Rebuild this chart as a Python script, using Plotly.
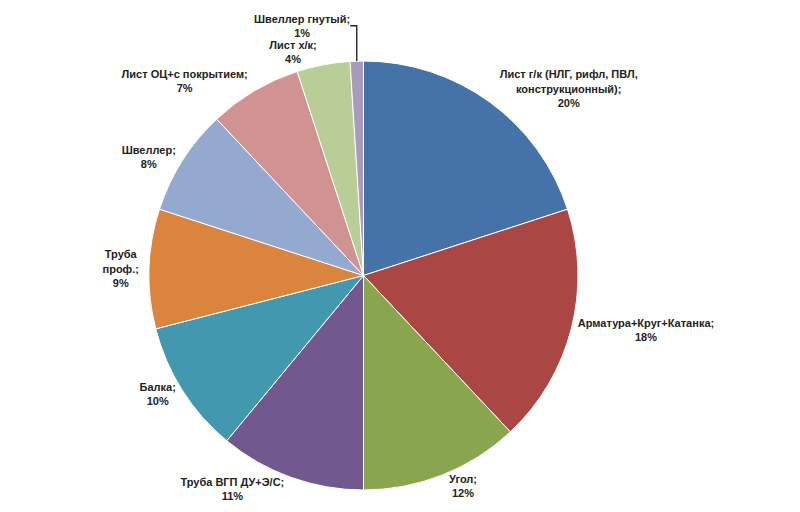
import plotly.graph_objects as go

labels = ["Лист г/к (НЛГ, рифл, ПВЛ,<br>конструкционный);", "Арматура+Круг+Катанка;", "Угол;",
          "Труба ВГП ДУ+Э/С;", "Балка;", "Труба<br>проф.;", "Швеллер;",
          "Лист ОЦ+с покрытием;", "Лист х/к;", "Швеллер гнутый;"]
values = [20, 18, 12, 11, 10, 9, 8, 7, 4, 1]
colors = ["#4572A7", "#AA4643", "#89A54E", "#71588F", "#4198AF", "#DB843D",
          "#93A9CF", "#D19392", "#B9CD96", "#A99BBD"]

fig = go.Figure(go.Pie(
    labels=labels, values=values, sort=False, direction="clockwise", rotation=0,
    marker=dict(colors=colors, line=dict(color="white", width=1)),
    texttemplate="<b>%{label}<br>%{percent:.0%}</b>", textposition="outside",
    textfont=dict(family="Liberation Sans", size=11, color="#222"),
    outsidetextfont=dict(family="Liberation Sans", size=11, color="#222"),
    showlegend=False,
))
fig.update_layout(width=800, height=512, margin=dict(l=80, r=80, t=40, b=30),
                  paper_bgcolor="white", font=dict(family="Liberation Sans"))
fig.write_html("out.html")
